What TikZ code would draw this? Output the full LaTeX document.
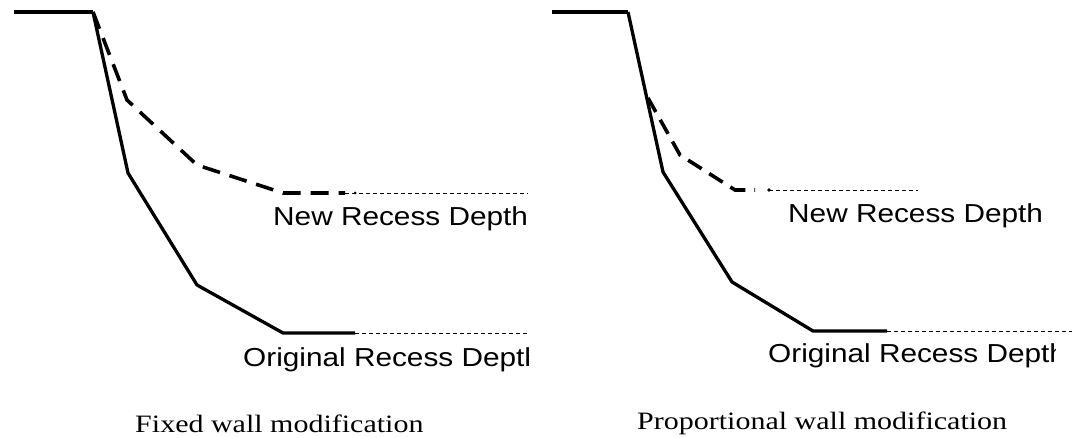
\documentclass[tikz,border=0pt]{standalone}
\usepackage{fontspec}
\setmainfont{Liberation Serif}
\newfontfamily\labelfont{Liberation Sans}
\begin{document}
\begin{tikzpicture}[x=1pt,y=-1pt,
  profile/.style={line width=3.3pt,line join=miter},
  rim/.style={line width=4pt},
  newprofile/.style={line width=3.6pt,dash pattern=on 18pt off 10pt},
  level/.style={line width=0.9pt,dash pattern=on 4pt off 3pt},
  depthlabel/.style={anchor=base west,inner sep=0pt,xscale=1.145,
    font=\labelfont\fontsize{26}{31}\selectfont},
  caption/.style={anchor=base west,inner sep=0pt,xscale=1.2,
    font=\fontsize{25}{30}\selectfont}]
\useasboundingbox (0,0) rectangle (1072,438);

% ---- fixed wall modification ----
\coordinate (fa) at (14,12);
\coordinate (fb) at (93,12);
\coordinate (fc) at (128,173);
\coordinate (fd) at (197,285);
\coordinate (fe) at (283,333);
\coordinate (ff) at (355,333);
\coordinate (fg) at (528,333);
\coordinate (fn1) at (127,100);
\coordinate (fn2) at (197,165);
\coordinate (fn3) at (283,193);
\coordinate (fn4) at (345,193);
\coordinate (fn5) at (528,193);
\draw[rim] (fa) -- (fb);
\draw[profile] (fb) -- (fc) -- (fd) -- (fe) -- (ff);
\draw[newprofile] (fb) -- (fn1) -- (fn2) -- (fn3) -- (fn4);
\draw[level] (ff) -- (fg);
\draw[level] (fn4) -- (fn5);
\fill (355,193) circle (1.5pt);
\begin{scope}
  \clip (0,0) rectangle (528,438);
  \node[depthlabel] (fnew) at (273,226) {New Recess Depth};
  \node[depthlabel] (forig) at (243,367) {Original Recess Depth};
\end{scope}
\node[caption] (fcap) at (135,433) {Fixed wall modification};

% ---- proportional wall modification ----
\coordinate (pa) at (552,12);
\coordinate (pb) at (628,12);
\coordinate (pc) at (663,172);
\coordinate (pd) at (732,282);
\coordinate (pe) at (813,331);
\coordinate (pf) at (887,331);
\coordinate (pg) at (1072,331);
\coordinate (pn0) at (648,98);
\coordinate (pn1) at (680,155);
\coordinate (pn2) at (735,190);
\coordinate (pn3) at (755,190);
\coordinate (pn4) at (769,190);
\coordinate (pn5) at (918,190);
\draw[rim] (pa) -- (pb);
\draw[profile] (pb) -- (pc) -- (pd) -- (pe) -- (pf);
\draw[newprofile,dash pattern=on 16pt off 9pt] (pn0) -- (pn1) -- (pn2) -- (pn3);
\draw[level] (pf) -- (pg);
\draw[level] (pn4) -- (pn5);
\fill (pn4) circle (1.8pt);
\begin{scope}
  \clip (540,0) rectangle (1055,438);
  \node[depthlabel] (pnew) at (788,223) {New Recess Depth};
  \node[depthlabel] (porig) at (768,363) {Original Recess Depth};
\end{scope}
\node[caption] (pcap) at (637,430) {Proportional wall modification};
\end{tikzpicture}
\end{document}
